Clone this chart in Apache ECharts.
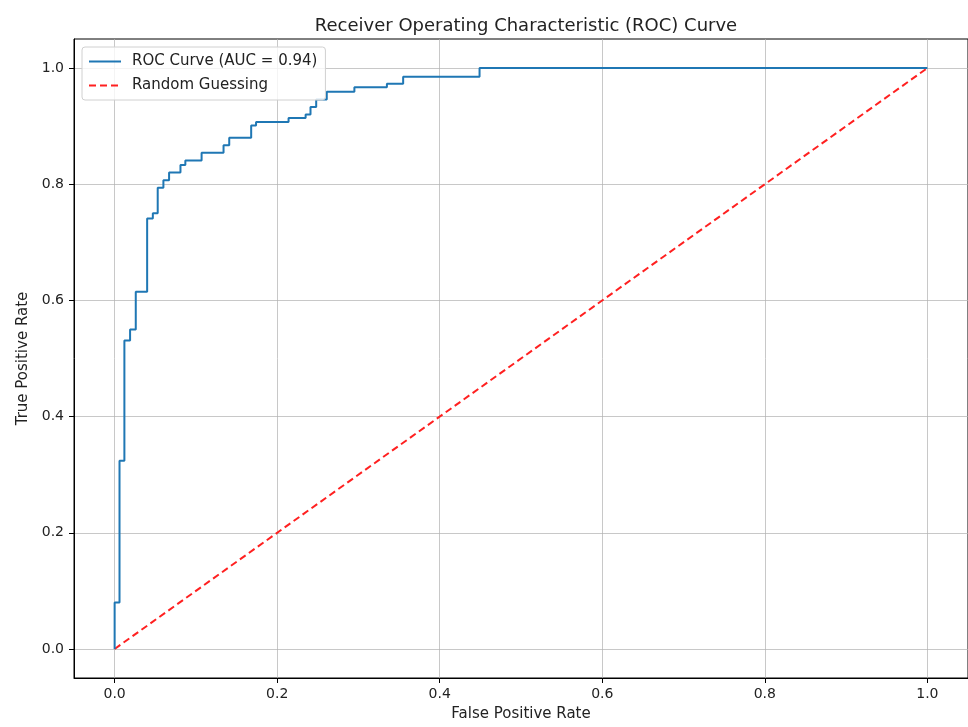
<!DOCTYPE html>
<html>
<head>
<meta charset="utf-8">
<script src="https://cdn.jsdelivr.net/npm/echarts@6/dist/echarts.min.js"></script>
<style>html,body{margin:0;padding:0;background:#fff;}#chart{width:968px;height:727px;}</style>
</head>
<body>
<div id="chart"></div>
<script>
// ROC curve points (corners of the step curve)
const fpr = [0, 0, 0.006, 0.006, 0.012, 0.012, 0.019, 0.019, 0.026, 0.026, 0.040, 0.040, 0.047, 0.047,
  0.053, 0.053, 0.060, 0.060, 0.067, 0.067, 0.081, 0.081, 0.087, 0.087, 0.107, 0.107, 0.134, 0.134,
  0.141, 0.141, 0.168, 0.168, 0.174, 0.174, 0.214, 0.214, 0.235, 0.235, 0.241, 0.241, 0.248, 0.248,
  0.261, 0.261, 0.295, 0.295, 0.335, 0.335, 0.355, 0.355, 0.449, 0.449, 1.0];
const tpr = [0, 0.080, 0.080, 0.324, 0.324, 0.531, 0.531, 0.550, 0.550, 0.615, 0.615, 0.741, 0.741, 0.750,
  0.750, 0.794, 0.794, 0.807, 0.807, 0.820, 0.820, 0.833, 0.833, 0.841, 0.841, 0.854, 0.854, 0.867,
  0.867, 0.880, 0.880, 0.901, 0.901, 0.907, 0.907, 0.914, 0.914, 0.920, 0.920, 0.933, 0.933, 0.946,
  0.946, 0.959, 0.959, 0.967, 0.967, 0.973, 0.973, 0.985, 0.985, 1.0, 1.0];
const diagX = [0, 1];
const diagY = [0, 1];
const tickValues = [0, 0.2, 0.4, 0.6, 0.8, 1.0];
const rocName = 'ROC Curve (AUC = 0.94)';
const randName = 'Random Guessing';

const font = 'DejaVu Sans';
const txt = '#222';
const chart = echarts.init(document.getElementById('chart'), null, {renderer: 'canvas'});

function axisCommon(name, isX) {
  return {
    type: 'value',
    min: -0.05,
    max: 1.05,
    name: name,
    nameLocation: 'middle',
    nameGap: isX ? 29 : 41,
    nameTextStyle: {fontFamily: font, fontSize: 15, color: txt},
    axisLine: {show: true, onZero: false, lineStyle: {color: '#000', width: 1}},
    axisTick: {show: true, length: 5, inside: false, customValues: tickValues, lineStyle: {color: '#000', width: 1}},
    axisLabel: {show: true, customValues: tickValues, margin: isX ? 9 : 10, fontFamily: font, fontSize: 14, color: txt,
      formatter: v => v.toFixed(1)},
    splitLine: {show: true, lineStyle: {color: '#b0b0b0', width: 1, opacity: 0.7}}
  };
}

chart.setOption({
  animation: false,
  backgroundColor: '#fff',
  title: {
    text: 'Receiver Operating Characteristic (ROC) Curve',
    left: 521, textAlign: 'center', top: 12,
    textStyle: {fontFamily: font, fontSize: 18, fontWeight: 'normal', color: txt}
  },
  grid: {left: 74, top: 39, width: 895, height: 642, show: true, borderColor: '#000', borderWidth: 1, backgroundColor: 'transparent'},
  legend: {
    orient: 'vertical', left: 82, top: 47,
    itemWidth: 32, itemHeight: 12, itemGap: 9,
    padding: [7, 8, 7, 6],
    backgroundColor: 'rgba(255,255,255,0.8)',
    borderColor: '#d0d0d0', borderWidth: 1, borderRadius: 3,
    itemStyle: {color: 'transparent', borderWidth: 0, borderColor: 'transparent'},
    textStyle: {fontFamily: font, fontSize: 15, color: txt, padding: [0, 0, 0, 6]},
    data: [rocName, randName]
  },
  xAxis: axisCommon('False Positive Rate', true),
  yAxis: axisCommon('True Positive Rate', false),
  series: [
    {
      name: rocName, type: 'line', symbol: 'none', z: 3,
      data: fpr.map((x, i) => [x, tpr[i]]),
      lineStyle: {color: '#1f77b4', width: 2},
      itemStyle: {color: '#1f77b4'}
    },
    {
      name: randName, type: 'line', symbol: 'none', z: 2,
      data: diagX.map((x, i) => [x, diagY[i]]),
      lineStyle: {color: '#ff2020', width: 2, type: [7, 4]},
      itemStyle: {color: '#ff2020'}
    }
  ]
});
</script>
</body>
</html>
